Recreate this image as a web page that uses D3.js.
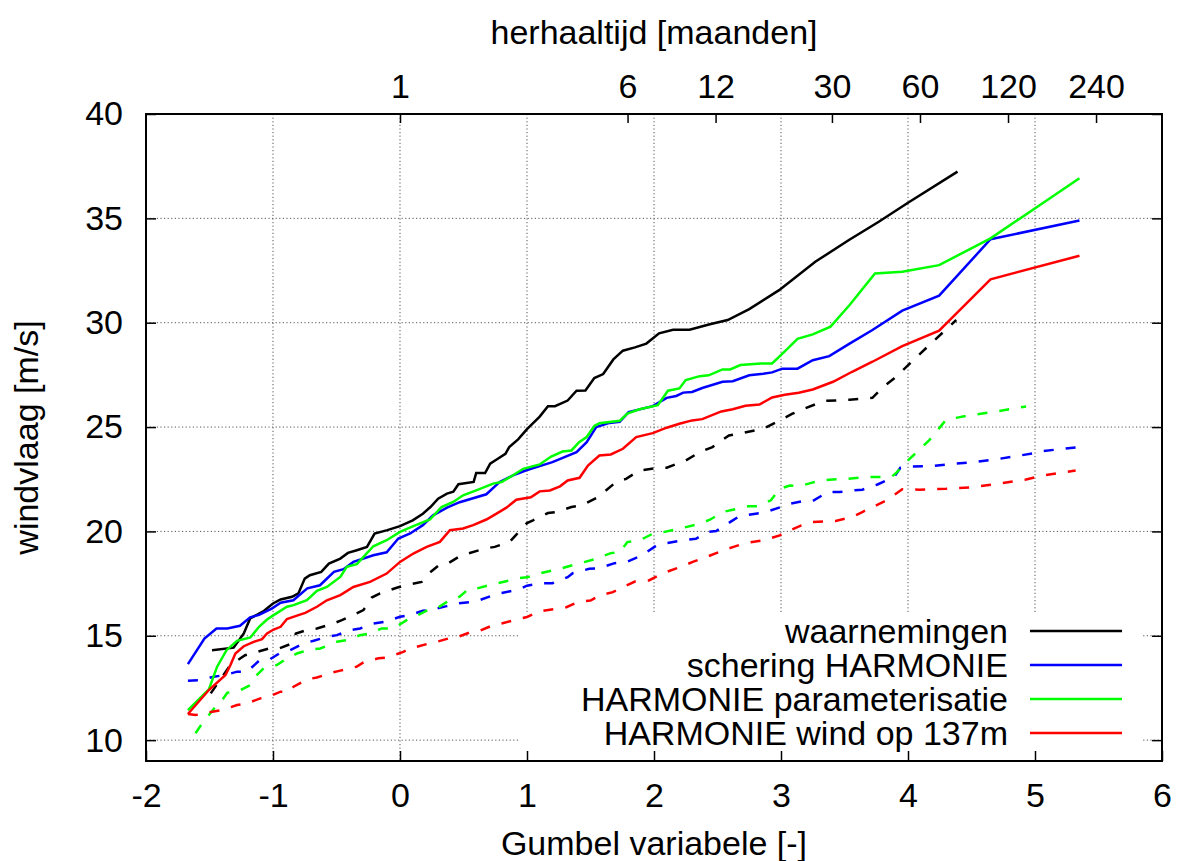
<!DOCTYPE html>
<html>
<head>
<meta charset="utf-8">
<script src="https://cdn.jsdelivr.net/npm/d3@7"></script>
<style>
  body { margin: 0; background: #fff; }
  svg { display: block; font-family: "Liberation Sans", Arial, sans-serif; }
  .grid line { stroke: #555; stroke-width: 1; stroke-dasharray: 1.2,2.4; }
  .axis text { font-size: 34px; fill: #000; }
  .axis line { stroke: #000; stroke-width: 1.5; }
</style>
</head>
<body>
<script>
// gumbel variable (x) vs windvlaag [m/s] (y)
var waarnemingen = [[-1.48,14.31],[-1.31,14.43],[-1.23,15.11],[-1.18,15.83],[-1.07,16.2],[-1.0,16.55],[-0.94,16.74],[-0.85,16.87],[-0.8,17.03],[-0.75,17.74],[-0.71,17.9],[-0.62,18.06],[-0.56,18.46],[-0.47,18.7],[-0.41,18.97],[-0.34,19.1],[-0.26,19.26],[-0.2,19.9],[-0.1,20.06],[0.0,20.25],[0.1,20.53],[0.18,20.85],[0.24,21.17],[0.3,21.57],[0.37,21.81],[0.42,21.9],[0.46,22.26],[0.58,22.37],[0.6,22.8],[0.67,22.8],[0.71,23.25],[0.77,23.48],[0.83,23.72],[0.86,24.04],[0.93,24.41],[1.0,24.9],[1.1,25.5],[1.165,26.0],[1.22,26.0],[1.32,26.27],[1.39,26.74],[1.46,26.75],[1.53,27.35],[1.6,27.54],[1.68,28.24],[1.755,28.66],[1.85,28.82],[1.94,29.0],[2.04,29.49],[2.15,29.66],[2.28,29.66],[2.44,29.93],[2.58,30.13],[2.75,30.65],[2.985,31.56],[3.27,32.92],[3.535,33.96],[3.77,34.84],[4.0,35.75],[4.39,37.24]];

var schering = [[-1.67,13.64],[-1.54,14.87],[-1.445,15.35],[-1.36,15.35],[-1.26,15.48],[-1.18,15.88],[-1.11,16.0],[-1.01,16.3],[-0.94,16.58],[-0.84,16.7],[-0.73,17.27],[-0.63,17.42],[-0.52,18.06],[-0.445,18.19],[-0.367,18.54],[-0.21,18.86],[-0.105,19.0],[-0.013,19.66],[0.08,19.9],[0.18,20.3],[0.26,20.77],[0.37,21.14],[0.47,21.4],[0.68,21.78],[0.785,22.37],[0.89,22.69],[0.995,22.93],[1.1,23.13],[1.2,23.32],[1.39,23.8],[1.47,24.28],[1.545,25.0],[1.65,25.2],[1.73,25.25],[1.8,25.72],[1.99,26.0],[2.1,26.4],[2.175,26.49],[2.23,26.65],[2.3,26.68],[2.38,26.87],[2.54,27.17],[2.62,27.2],[2.75,27.48],[2.86,27.55],[2.93,27.62],[3.01,27.8],[3.13,27.8],[3.25,28.2],[3.38,28.4],[3.54,29.0],[3.72,29.65],[3.955,30.58],[4.245,31.3],[4.65,34.0],[5.35,34.9]];

var parameterisatie = [[-1.67,11.44],[-1.505,12.43],[-1.44,13.52],[-1.366,14.31],[-1.283,14.76],[-1.178,14.92],[-1.11,15.43],[-1.047,15.78],[-0.995,15.99],[-0.89,16.39],[-0.838,16.47],[-0.733,16.71],[-0.654,17.15],[-0.576,17.34],[-0.47,17.82],[-0.419,18.3],[-0.34,18.43],[-0.21,19.29],[-0.105,19.58],[0.0,19.98],[0.105,20.25],[0.236,20.57],[0.327,21.17],[0.419,21.41],[0.497,21.73],[0.6,21.97],[0.733,22.29],[0.8,22.37],[0.89,22.69],[0.97,23.0],[1.1,23.21],[1.19,23.59],[1.28,23.83],[1.35,23.88],[1.41,24.28],[1.47,24.52],[1.53,25.05],[1.57,25.18],[1.73,25.3],[1.79,25.65],[1.886,25.85],[2.03,26.05],[2.11,26.74],[2.2,26.85],[2.25,27.25],[2.36,27.44],[2.43,27.48],[2.54,27.76],[2.6,27.76],[2.68,27.97],[2.84,28.05],[2.93,28.05],[3.04,28.69],[3.13,29.23],[3.25,29.44],[3.39,29.81],[3.54,30.85],[3.74,32.36],[3.955,32.44],[4.245,32.76],[4.65,34.04],[5.35,36.92]];

var wind137 = [[-1.67,11.25],[-1.505,12.4],[-1.374,13.12],[-1.335,13.6],[-1.296,14.15],[-1.23,14.5],[-1.152,14.71],[-1.086,14.84],[-1.047,15.11],[-0.995,15.3],[-0.94,15.43],[-0.89,15.8],[-0.8,15.99],[-0.746,16.1],[-0.654,16.39],[-0.576,16.7],[-0.47,16.95],[-0.367,17.34],[-0.236,17.58],[-0.105,17.98],[0.0,18.54],[0.105,18.94],[0.21,19.26],[0.314,19.5],[0.393,20.06],[0.497,20.14],[0.576,20.3],[0.68,20.57],[0.76,20.85],[0.838,21.14],[0.916,21.52],[1.03,21.64],[1.1,21.92],[1.18,21.96],[1.26,22.16],[1.32,22.44],[1.414,22.57],[1.48,23.16],[1.57,23.64],[1.66,23.69],[1.755,23.96],[1.86,24.52],[1.99,24.71],[2.1,24.97],[2.2,25.16],[2.3,25.32],[2.38,25.38],[2.53,25.75],[2.62,25.85],[2.72,26.02],[2.83,26.08],[2.93,26.42],[3.03,26.55],[3.14,26.64],[3.25,26.8],[3.41,27.17],[3.56,27.65],[3.72,28.13],[3.955,28.88],[4.245,29.62],[4.65,32.08],[5.35,33.21]];

// dashed series (no key entry)
var waarnemingen2 = [[-1.49,12.24],[-1.335,13.6],[-1.22,14.07],[-1.14,14.2],[-1.03,14.39],[-0.955,14.39],[-0.85,14.63],[-0.82,15.11],[-0.72,15.3],[-0.654,15.35],[-0.537,15.56],[-0.458,15.75],[-0.353,16.04],[-0.288,16.23],[-0.223,16.83],[-0.157,17.03],[-0.026,17.3],[0.04,17.42],[0.17,17.58],[0.21,17.9],[0.3,18.35],[0.367,18.43],[0.484,18.86],[0.537,18.94],[0.667,19.18],[0.746,19.26],[0.864,19.5],[0.916,19.85],[1.0,20.4],[1.047,20.53],[1.165,20.88],[1.23,20.93],[1.35,21.17],[1.43,21.25],[1.56,21.65],[1.7,22.36],[1.78,22.52],[1.886,22.92],[2.04,23.05],[2.1,23.05],[2.25,23.4],[2.36,23.8],[2.46,24.04],[2.59,24.6],[2.67,24.68],[2.86,24.92],[2.99,25.32],[3.09,25.64],[3.16,25.83],[3.34,26.25],[3.54,26.31],[3.72,26.4],[3.8,26.9],[3.89,27.33],[4.03,28.13],[4.18,29.0],[4.38,30.13]];

var schering2 = [[-1.67,12.85],[-1.57,12.88],[-1.466,13.04],[-1.374,13.12],[-1.283,13.28],[-1.204,13.28],[-1.11,13.8],[-1.034,13.84],[-0.94,14.19],[-0.864,14.31],[-0.76,14.63],[-0.68,14.76],[-0.576,14.95],[-0.497,15.03],[-0.393,15.27],[-0.314,15.35],[-0.21,15.59],[-0.118,15.67],[0.0,15.91],[0.08,15.99],[0.18,16.2],[0.26,16.26],[0.367,16.42],[0.445,16.55],[0.576,16.63],[0.628,16.71],[0.76,17.0],[0.81,17.06],[0.94,17.23],[1.0,17.4],[1.11,17.52],[1.2,17.52],[1.32,17.81],[1.36,18.0],[1.49,18.21],[1.57,18.24],[1.69,18.48],[1.78,18.53],[1.886,18.8],[1.94,19.0],[2.02,19.33],[2.1,19.44],[2.25,19.6],[2.33,19.65],[2.42,19.97],[2.49,20.02],[2.62,20.53],[2.67,20.72],[2.8,20.85],[2.88,20.93],[3.0,21.17],[3.05,21.3],[3.18,21.46],[3.25,21.46],[3.37,21.89],[3.46,21.89],[3.58,21.97],[3.64,22.0],[3.76,22.25],[3.89,22.6],[3.94,23.05],[4.0,23.11],[4.18,23.13],[4.31,23.21],[4.51,23.32],[4.72,23.48],[4.85,23.61],[5.0,23.75],[5.06,23.85],[5.35,24.04]];

var parameterisatie2 = [[-1.61,10.33],[-1.558,10.8],[-1.453,11.6],[-1.427,11.68],[-1.36,12.27],[-1.283,12.32],[-1.178,12.64],[-1.14,13.04],[-1.073,13.44],[-0.97,13.6],[-0.89,13.92],[-0.812,14.15],[-0.707,14.35],[-0.628,14.39],[-0.497,14.71],[-0.42,14.79],[-0.314,15.03],[-0.236,15.11],[-0.144,15.35],[-0.052,15.35],[0.052,15.75],[0.105,15.88],[0.21,16.2],[0.288,16.31],[0.393,16.71],[0.47,16.87],[0.537,17.23],[0.6,17.26],[0.733,17.47],[0.81,17.58],[0.94,17.76],[1.0,17.8],[1.11,18.0],[1.26,18.21],[1.35,18.37],[1.45,18.53],[1.545,18.69],[1.66,18.96],[1.73,19.0],[1.79,19.49],[1.886,19.57],[1.99,19.89],[2.04,19.92],[2.2,20.13],[2.36,20.37],[2.44,20.56],[2.54,20.93],[2.62,21.04],[2.74,21.2],[2.82,21.2],[2.92,21.49],[2.99,22.04],[3.07,22.2],[3.14,22.16],[3.26,22.36],[3.38,22.48],[3.52,22.52],[3.67,22.6],[3.87,22.62],[3.9,22.76],[4.0,23.4],[4.166,24.36],[4.3,25.35],[4.48,25.56],[4.67,25.72],[4.93,25.99]];

var wind137_2 = [[-1.67,11.25],[-1.61,11.2],[-1.479,11.36],[-1.4,11.44],[-1.283,11.68],[-1.204,11.76],[-1.1,12.0],[-1.034,12.08],[-0.94,12.32],[-0.877,12.32],[-0.838,12.56],[-0.733,12.91],[-0.654,13.0],[-0.537,13.23],[-0.47,13.33],[-0.34,13.52],[-0.288,13.72],[-0.17,13.92],[-0.105,13.96],[0.026,14.23],[0.08,14.39],[0.21,14.6],[0.288,14.71],[0.38,14.87],[0.458,14.95],[0.563,15.19],[0.628,15.24],[0.733,15.51],[0.8,15.59],[0.93,15.8],[1.0,15.9],[1.1,16.17],[1.18,16.25],[1.31,16.37],[1.4,16.61],[1.5,16.69],[1.57,16.93],[1.676,17.09],[1.755,17.33],[1.85,17.6],[1.96,17.65],[2.07,18.0],[2.22,18.32],[2.3,18.53],[2.41,18.77],[2.51,19.01],[2.62,19.25],[2.72,19.44],[2.86,19.57],[2.99,19.81],[3.04,19.97],[3.16,20.29],[3.25,20.45],[3.43,20.5],[3.56,20.69],[3.64,20.93],[3.75,21.25],[3.83,21.49],[3.955,22.02],[4.09,22.0],[4.3,22.04],[4.51,22.12],[4.67,22.25],[4.93,22.49],[5.06,22.68],[5.32,22.92]];

var xTicks = [-2, -1, 0, 1, 2, 3, 4, 5, 6];
var yTicks = [10, 15, 20, 25, 30, 35, 40];
var maanden = [1, 6, 12, 30, 60, 120, 240];

var solid = [
  {name: "waarnemingen", data: waarnemingen, color: "#000000"},
  {name: "schering HARMONIE", data: schering, color: "#0000ff"},
  {name: "HARMONIE parameterisatie", data: parameterisatie, color: "#00ff00"},
  {name: "HARMONIE wind op 137m", data: wind137, color: "#ff0000"}
];
var dashed = [
  {data: waarnemingen2, color: "#000000"},
  {data: schering2, color: "#0000ff"},
  {data: parameterisatie2, color: "#00ff00"},
  {data: wind137_2, color: "#ff0000"}
];

var width = 1179, height = 861;
var plotL = 146, plotR = 1162, plotT = 114, plotB = 761;

var x = d3.scaleLinear().domain([-2, 6]).range([plotL, plotR]);
var y = d3.scaleLinear().domain([9, 40]).range([plotB, plotT]);

var svg = d3.select("body").append("svg")
    .attr("width", width)
    .attr("height", height);

// grid
var grid = svg.append("g").attr("class", "grid");
grid.selectAll(".gx")
    .data(xTicks.slice(1, -1))
  .enter().append("line")
    .attr("x1", function(d) { return x(d); })
    .attr("x2", function(d) { return x(d); })
    .attr("y1", plotT).attr("y2", plotB);
grid.selectAll(".gy")
    .data(yTicks.slice(0, -1))
  .enter().append("line")
    .attr("y1", function(d) { return y(d); })
    .attr("y2", function(d) { return y(d); })
    .attr("x1", plotL).attr("x2", plotR);

// opaque key box
svg.append("rect")
    .attr("x", 520).attr("y", 613)
    .attr("width", 622).attr("height", plotB - 613)
    .attr("fill", "#fff");

// axes (ticks inward like gnuplot)
svg.append("g").attr("class", "axis")
    .attr("transform", "translate(0," + plotB + ")")
    .call(d3.axisBottom(x).tickValues(xTicks).tickSize(-10).tickPadding(22).tickFormat(String))
    .call(function(g) { g.select(".domain").remove(); });

svg.append("g").attr("class", "axis")
    .attr("transform", "translate(" + plotL + ",0)")
    .call(d3.axisLeft(y).tickValues(yTicks).tickSize(-10).tickPadding(23))
    .call(function(g) { g.select(".domain").remove(); });

svg.append("g").attr("class", "axis")
    .attr("transform", "translate(" + plotR + ",0)")
    .call(d3.axisRight(y).tickValues(yTicks).tickSize(-10).tickFormat(""))
    .call(function(g) { g.select(".domain").remove(); });

// top axis: herhaaltijd in maanden, gumbel ~ ln(T)
svg.append("g").attr("class", "axis")
    .attr("transform", "translate(0," + plotT + ")")
    .call(d3.axisTop(x).tickValues(maanden.map(Math.log)).tickSize(-9).tickPadding(16)
      .tickFormat(function(d, i) { return maanden[i]; }))
    .call(function(g) { g.select(".domain").remove(); });

// data
var line = d3.line()
    .x(function(d) { return x(d[0]); })
    .y(function(d) { return y(d[1]); });

svg.append("g").selectAll("path")
    .data(dashed)
  .enter().append("path")
    .attr("d", function(d) { return line(d.data); })
    .attr("fill", "none")
    .attr("stroke", function(d) { return d.color; })
    .attr("stroke-width", 2.5)
    .attr("stroke-dasharray", "10,12");

svg.append("g").selectAll("path")
    .data(solid)
  .enter().append("path")
    .attr("d", function(d) { return line(d.data); })
    .attr("fill", "none")
    .attr("stroke", function(d) { return d.color; })
    .attr("stroke-width", 2.5);

// border
svg.append("rect")
    .attr("x", plotL).attr("y", plotT)
    .attr("width", plotR - plotL).attr("height", plotB - plotT)
    .attr("fill", "none")
    .attr("stroke", "#000")
    .attr("stroke-width", 2);

// key
var key = svg.append("g").selectAll("g")
    .data(solid)
  .enter().append("g")
    .attr("transform", function(d, i) { return "translate(0," + (631 + i * 34) + ")"; });
key.append("text")
    .attr("x", 1008)
    .attr("dy", "0.35em")
    .attr("text-anchor", "end")
    .style("font-size", "34px")
    .text(function(d) { return d.name; });
key.append("line")
    .attr("x1", 1030).attr("x2", 1122)
    .attr("stroke", function(d) { return d.color; })
    .attr("stroke-width", 2.5);

// labels
svg.append("text")
    .attr("x", (plotL + plotR) / 2).attr("y", 855)
    .attr("text-anchor", "middle")
    .style("font-size", "34px")
    .text("Gumbel variabele [-]");

svg.append("text")
    .attr("transform", "translate(38," + (plotT + plotB) / 2 + ") rotate(-90)")
    .attr("text-anchor", "middle")
    .style("font-size", "34px")
    .text("windvlaag [m/s]");

svg.append("text")
    .attr("x", (plotL + plotR) / 2).attr("y", 44)
    .attr("text-anchor", "middle")
    .style("font-size", "34px")
    .text("herhaaltijd [maanden]");
</script>
</body>
</html>
